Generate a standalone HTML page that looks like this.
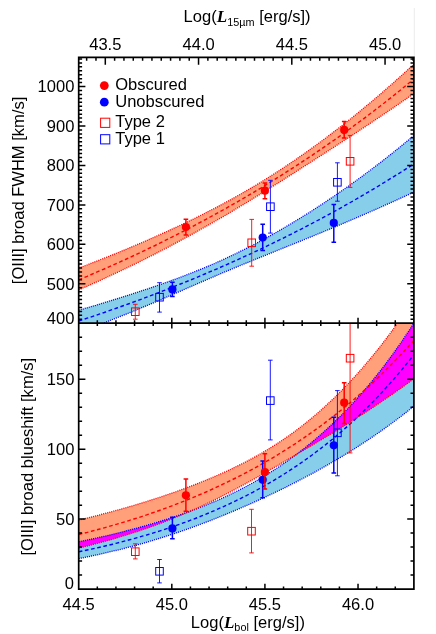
<!DOCTYPE html><html><head><meta charset="utf-8"><title>plot</title>
<style>html,body{margin:0;padding:0;background:#fff}svg{display:block;will-change:transform}text{font-family:"Liberation Sans",sans-serif;font-size:16px;fill:#000}</style></head><body>
<svg width="436" height="634" viewBox="0 0 436 634">
<rect width="436" height="634" fill="#fff"/>
<path d="M414.3,8V57" stroke="#ebebeb" stroke-width="1"/>
<defs>
<clipPath id="c1"><rect x="78.7" y="57.3" width="335.2" height="265.8"/></clipPath>
<clipPath id="c2"><rect x="78.7" y="323.1" width="335.2" height="266.1"/></clipPath>
<clipPath id="cru"><path d="M78.7,520.2 L82.9,519.1 L87.2,518.1 L91.4,517.0 L95.7,515.9 L99.9,514.8 L104.2,513.7 L108.4,512.6 L112.6,511.4 L116.9,510.3 L121.1,509.1 L125.4,507.9 L129.6,506.6 L133.9,505.4 L138.1,504.1 L142.3,502.8 L146.6,501.5 L150.8,500.1 L155.1,498.8 L159.3,497.4 L163.6,496.0 L167.8,494.5 L172.0,493.1 L176.3,491.6 L180.5,490.0 L184.8,488.5 L189.0,486.9 L193.3,485.3 L197.5,483.6 L201.7,481.9 L206.0,480.2 L210.2,478.4 L214.5,476.6 L218.7,474.8 L223.0,472.9 L227.2,471.0 L231.4,469.0 L235.7,466.9 L239.9,464.8 L244.2,462.7 L248.4,460.5 L252.7,458.2 L256.9,455.8 L261.2,453.4 L265.4,450.9 L269.6,448.4 L273.9,445.7 L278.1,443.0 L282.4,440.2 L286.6,437.3 L290.9,434.3 L295.1,431.2 L299.3,428.0 L303.6,424.7 L307.8,421.3 L312.1,417.8 L316.3,414.2 L320.6,410.5 L324.8,406.7 L329.0,402.8 L333.3,398.8 L337.5,394.6 L341.8,390.4 L346.0,386.0 L350.3,381.5 L354.5,377.0 L358.7,372.2 L363.0,367.4 L367.2,362.4 L371.5,357.3 L375.7,352.1 L380.0,346.8 L384.2,341.3 L388.4,335.7 L392.7,329.9 L396.9,324.0 L401.2,317.9 L405.4,311.7 L409.7,305.4 L413.9,298.9 L413.9,378.7 L409.7,381.8 L405.4,384.9 L401.2,388.0 L396.9,391.0 L392.7,394.0 L388.4,396.9 L384.2,399.8 L380.0,402.7 L375.7,405.6 L371.5,408.4 L367.2,411.2 L363.0,413.9 L358.7,416.6 L354.5,419.3 L350.3,422.0 L346.0,424.7 L341.8,427.3 L337.5,429.9 L333.3,432.5 L329.0,435.1 L324.8,437.6 L320.6,440.2 L316.3,442.7 L312.1,445.2 L307.8,447.7 L303.6,450.2 L299.3,452.7 L295.1,455.2 L290.9,457.7 L286.6,460.2 L282.4,462.7 L278.1,465.2 L273.9,467.6 L269.6,470.1 L265.4,472.5 L261.2,475.0 L256.9,477.4 L252.7,479.8 L248.4,482.1 L244.2,484.5 L239.9,486.8 L235.7,489.1 L231.4,491.3 L227.2,493.5 L223.0,495.7 L218.7,497.8 L214.5,499.9 L210.2,502.0 L206.0,504.0 L201.7,506.0 L197.5,508.0 L193.3,509.9 L189.0,511.8 L184.8,513.6 L180.5,515.4 L176.3,517.1 L172.0,518.8 L167.8,520.5 L163.6,522.2 L159.3,523.8 L155.1,525.3 L150.8,526.9 L146.6,528.4 L142.3,529.8 L138.1,531.3 L133.9,532.6 L129.6,534.0 L125.4,535.3 L121.1,536.6 L116.9,537.9 L112.6,539.2 L108.4,540.4 L104.2,541.5 L99.9,542.7 L95.7,543.8 L91.4,544.9 L87.2,546.0 L82.9,547.1 L78.7,548.1 Z"/></clipPath>
</defs>
<g clip-path="url(#c1)">
<path d="M78.7,310.2 L82.9,309.0 L87.2,307.8 L91.4,306.5 L95.7,305.3 L99.9,304.0 L104.2,302.7 L108.4,301.4 L112.6,300.1 L116.9,298.8 L121.1,297.5 L125.4,296.1 L129.6,294.8 L133.9,293.4 L138.1,292.0 L142.3,290.6 L146.6,289.2 L150.8,287.8 L155.1,286.3 L159.3,284.9 L163.6,283.4 L167.8,281.9 L172.0,280.3 L176.3,278.8 L180.5,277.2 L184.8,275.6 L189.0,273.9 L193.3,272.3 L197.5,270.6 L201.7,268.9 L206.0,267.1 L210.2,265.3 L214.5,263.5 L218.7,261.6 L223.0,259.7 L227.2,257.7 L231.4,255.7 L235.7,253.7 L239.9,251.6 L244.2,249.5 L248.4,247.4 L252.7,245.2 L256.9,243.0 L261.2,240.7 L265.4,238.4 L269.6,236.1 L273.9,233.7 L278.1,231.3 L282.4,228.8 L286.6,226.3 L290.9,223.8 L295.1,221.2 L299.3,218.7 L303.6,216.0 L307.8,213.4 L312.1,210.7 L316.3,207.9 L320.6,205.2 L324.8,202.4 L329.0,199.5 L333.3,196.7 L337.5,193.8 L341.8,190.8 L346.0,187.9 L350.3,184.9 L354.5,181.8 L358.7,178.8 L363.0,175.7 L367.2,172.5 L371.5,169.3 L375.7,166.1 L380.0,162.9 L384.2,159.6 L388.4,156.3 L392.7,152.9 L396.9,149.5 L401.2,146.1 L405.4,142.6 L409.7,139.1 L413.9,135.6 L413.9,192.1 L409.7,194.0 L405.4,196.0 L401.2,197.9 L396.9,199.9 L392.7,201.8 L388.4,203.7 L384.2,205.6 L380.0,207.5 L375.7,209.4 L371.5,211.2 L367.2,213.1 L363.0,214.9 L358.7,216.8 L354.5,218.6 L350.3,220.4 L346.0,222.2 L341.8,224.0 L337.5,225.8 L333.3,227.6 L329.0,229.4 L324.8,231.1 L320.6,232.9 L316.3,234.6 L312.1,236.4 L307.8,238.1 L303.6,239.8 L299.3,241.6 L295.1,243.3 L290.9,245.0 L286.6,246.7 L282.4,248.4 L278.1,250.1 L273.9,251.8 L269.6,253.6 L265.4,255.3 L261.2,257.0 L256.9,258.7 L252.7,260.4 L248.4,262.2 L244.2,263.9 L239.9,265.6 L235.7,267.4 L231.4,269.2 L227.2,271.0 L223.0,272.7 L218.7,274.5 L214.5,276.4 L210.2,278.2 L206.0,280.0 L201.7,281.8 L197.5,283.7 L193.3,285.5 L189.0,287.4 L184.8,289.2 L180.5,291.1 L176.3,292.9 L172.0,294.8 L167.8,296.6 L163.6,298.4 L159.3,300.3 L155.1,302.1 L150.8,303.9 L146.6,305.7 L142.3,307.4 L138.1,309.2 L133.9,311.0 L129.6,312.7 L125.4,314.4 L121.1,316.1 L116.9,317.8 L112.6,319.5 L108.4,321.2 L104.2,322.9 L99.9,324.5 L95.7,326.1 L91.4,327.7 L87.2,329.3 L82.9,330.9 L78.7,332.5 Z" fill="#87ceeb"/>
<path d="M78.7,268.1 L82.9,266.5 L87.2,264.9 L91.4,263.2 L95.7,261.6 L99.9,259.9 L104.2,258.2 L108.4,256.5 L112.6,254.8 L116.9,253.1 L121.1,251.3 L125.4,249.6 L129.6,247.8 L133.9,246.0 L138.1,244.2 L142.3,242.4 L146.6,240.6 L150.8,238.7 L155.1,236.8 L159.3,234.9 L163.6,233.0 L167.8,231.1 L172.0,229.1 L176.3,227.2 L180.5,225.2 L184.8,223.2 L189.0,221.1 L193.3,219.1 L197.5,217.0 L201.7,214.9 L206.0,212.7 L210.2,210.5 L214.5,208.4 L218.7,206.1 L223.0,203.9 L227.2,201.6 L231.4,199.3 L235.7,196.9 L239.9,194.5 L244.2,192.1 L248.4,189.6 L252.7,187.1 L256.9,184.6 L261.2,182.0 L265.4,179.4 L269.6,176.7 L273.9,174.0 L278.1,171.3 L282.4,168.5 L286.6,165.7 L290.9,162.8 L295.1,160.0 L299.3,157.0 L303.6,154.1 L307.8,151.1 L312.1,148.0 L316.3,145.0 L320.6,141.8 L324.8,138.7 L329.0,135.5 L333.3,132.3 L337.5,129.0 L341.8,125.7 L346.0,122.4 L350.3,119.1 L354.5,115.7 L358.7,112.2 L363.0,108.7 L367.2,105.2 L371.5,101.7 L375.7,98.1 L380.0,94.5 L384.2,90.8 L388.4,87.1 L392.7,83.4 L396.9,79.6 L401.2,75.8 L405.4,72.0 L409.7,68.1 L413.9,64.1 L413.9,93.4 L409.7,96.4 L405.4,99.4 L401.2,102.3 L396.9,105.2 L392.7,108.2 L388.4,111.0 L384.2,113.9 L380.0,116.8 L375.7,119.6 L371.5,122.5 L367.2,125.3 L363.0,128.1 L358.7,130.9 L354.5,133.7 L350.3,136.5 L346.0,139.3 L341.8,142.0 L337.5,144.8 L333.3,147.6 L329.0,150.3 L324.8,153.1 L320.6,155.8 L316.3,158.5 L312.1,161.3 L307.8,164.0 L303.6,166.7 L299.3,169.4 L295.1,172.2 L290.9,174.9 L286.6,177.6 L282.4,180.3 L278.1,183.0 L273.9,185.6 L269.6,188.3 L265.4,191.0 L261.2,193.6 L256.9,196.2 L252.7,198.8 L248.4,201.4 L244.2,204.0 L239.9,206.6 L235.7,209.1 L231.4,211.7 L227.2,214.2 L223.0,216.7 L218.7,219.1 L214.5,221.6 L210.2,224.0 L206.0,226.4 L201.7,228.8 L197.5,231.2 L193.3,233.6 L189.0,235.9 L184.8,238.2 L180.5,240.5 L176.3,242.8 L172.0,245.1 L167.8,247.3 L163.6,249.5 L159.3,251.7 L155.1,253.9 L150.8,256.1 L146.6,258.2 L142.3,260.3 L138.1,262.4 L133.9,264.5 L129.6,266.6 L125.4,268.6 L121.1,270.6 L116.9,272.6 L112.6,274.6 L108.4,276.6 L104.2,278.5 L99.9,280.5 L95.7,282.4 L91.4,284.3 L87.2,286.2 L82.9,288.0 L78.7,289.9 Z" fill="#ffa07a"/>
<path d="M78.7,310.2 L82.9,309.0 L87.2,307.8 L91.4,306.5 L95.7,305.3 L99.9,304.0 L104.2,302.7 L108.4,301.4 L112.6,300.1 L116.9,298.8 L121.1,297.5 L125.4,296.1 L129.6,294.8 L133.9,293.4 L138.1,292.0 L142.3,290.6 L146.6,289.2 L150.8,287.8 L155.1,286.3 L159.3,284.9 L163.6,283.4 L167.8,281.9 L172.0,280.3 L176.3,278.8 L180.5,277.2 L184.8,275.6 L189.0,273.9 L193.3,272.3 L197.5,270.6 L201.7,268.9 L206.0,267.1 L210.2,265.3 L214.5,263.5 L218.7,261.6 L223.0,259.7 L227.2,257.7 L231.4,255.7 L235.7,253.7 L239.9,251.6 L244.2,249.5 L248.4,247.4 L252.7,245.2 L256.9,243.0 L261.2,240.7 L265.4,238.4 L269.6,236.1 L273.9,233.7 L278.1,231.3 L282.4,228.8 L286.6,226.3 L290.9,223.8 L295.1,221.2 L299.3,218.7 L303.6,216.0 L307.8,213.4 L312.1,210.7 L316.3,207.9 L320.6,205.2 L324.8,202.4 L329.0,199.5 L333.3,196.7 L337.5,193.8 L341.8,190.8 L346.0,187.9 L350.3,184.9 L354.5,181.8 L358.7,178.8 L363.0,175.7 L367.2,172.5 L371.5,169.3 L375.7,166.1 L380.0,162.9 L384.2,159.6 L388.4,156.3 L392.7,152.9 L396.9,149.5 L401.2,146.1 L405.4,142.6 L409.7,139.1 L413.9,135.6 " fill="none" stroke="#0000ff" stroke-width="1.3" stroke-dasharray="1.05,1.05"/>
<path d="M78.7,332.5 L82.9,330.9 L87.2,329.3 L91.4,327.7 L95.7,326.1 L99.9,324.5 L104.2,322.9 L108.4,321.2 L112.6,319.5 L116.9,317.8 L121.1,316.1 L125.4,314.4 L129.6,312.7 L133.9,311.0 L138.1,309.2 L142.3,307.4 L146.6,305.7 L150.8,303.9 L155.1,302.1 L159.3,300.3 L163.6,298.4 L167.8,296.6 L172.0,294.8 L176.3,292.9 L180.5,291.1 L184.8,289.2 L189.0,287.4 L193.3,285.5 L197.5,283.7 L201.7,281.8 L206.0,280.0 L210.2,278.2 L214.5,276.4 L218.7,274.5 L223.0,272.7 L227.2,271.0 L231.4,269.2 L235.7,267.4 L239.9,265.6 L244.2,263.9 L248.4,262.2 L252.7,260.4 L256.9,258.7 L261.2,257.0 L265.4,255.3 L269.6,253.6 L273.9,251.8 L278.1,250.1 L282.4,248.4 L286.6,246.7 L290.9,245.0 L295.1,243.3 L299.3,241.6 L303.6,239.8 L307.8,238.1 L312.1,236.4 L316.3,234.6 L320.6,232.9 L324.8,231.1 L329.0,229.4 L333.3,227.6 L337.5,225.8 L341.8,224.0 L346.0,222.2 L350.3,220.4 L354.5,218.6 L358.7,216.8 L363.0,214.9 L367.2,213.1 L371.5,211.2 L375.7,209.4 L380.0,207.5 L384.2,205.6 L388.4,203.7 L392.7,201.8 L396.9,199.9 L401.2,197.9 L405.4,196.0 L409.7,194.0 L413.9,192.1 " fill="none" stroke="#0000ff" stroke-width="1.3" stroke-dasharray="1.05,1.05"/>
<path d="M78.7,321.0 L82.9,319.6 L87.2,318.2 L91.4,316.8 L95.7,315.4 L99.9,313.9 L104.2,312.5 L108.4,311.0 L112.6,309.5 L116.9,308.0 L121.1,306.5 L125.4,305.0 L129.6,303.5 L133.9,301.9 L138.1,300.4 L142.3,298.8 L146.6,297.2 L150.8,295.6 L155.1,294.0 L159.3,292.4 L163.6,290.7 L167.8,289.1 L172.0,287.4 L176.3,285.7 L180.5,284.0 L184.8,282.3 L189.0,280.6 L193.3,278.8 L197.5,277.1 L201.7,275.3 L206.0,273.5 L210.2,271.7 L214.5,269.9 L218.7,268.1 L223.0,266.2 L227.2,264.4 L231.4,262.5 L235.7,260.6 L239.9,258.6 L244.2,256.7 L248.4,254.8 L252.7,252.8 L256.9,250.8 L261.2,248.8 L265.4,246.8 L269.6,244.8 L273.9,242.7 L278.1,240.6 L282.4,238.5 L286.6,236.4 L290.9,234.3 L295.1,232.2 L299.3,230.0 L303.6,227.8 L307.8,225.6 L312.1,223.4 L316.3,221.1 L320.6,218.9 L324.8,216.6 L329.0,214.3 L333.3,212.0 L337.5,209.7 L341.8,207.3 L346.0,204.9 L350.3,202.5 L354.5,200.1 L358.7,197.6 L363.0,195.2 L367.2,192.7 L371.5,190.2 L375.7,187.7 L380.0,185.1 L384.2,182.5 L388.4,179.9 L392.7,177.3 L396.9,174.7 L401.2,172.0 L405.4,169.3 L409.7,166.6 L413.9,163.9 " fill="none" stroke="#0000ff" stroke-width="1.4" stroke-dasharray="3.7,2.6"/>
<path d="M78.7,268.1 L82.9,266.5 L87.2,264.9 L91.4,263.2 L95.7,261.6 L99.9,259.9 L104.2,258.2 L108.4,256.5 L112.6,254.8 L116.9,253.1 L121.1,251.3 L125.4,249.6 L129.6,247.8 L133.9,246.0 L138.1,244.2 L142.3,242.4 L146.6,240.6 L150.8,238.7 L155.1,236.8 L159.3,234.9 L163.6,233.0 L167.8,231.1 L172.0,229.1 L176.3,227.2 L180.5,225.2 L184.8,223.2 L189.0,221.1 L193.3,219.1 L197.5,217.0 L201.7,214.9 L206.0,212.7 L210.2,210.5 L214.5,208.4 L218.7,206.1 L223.0,203.9 L227.2,201.6 L231.4,199.3 L235.7,196.9 L239.9,194.5 L244.2,192.1 L248.4,189.6 L252.7,187.1 L256.9,184.6 L261.2,182.0 L265.4,179.4 L269.6,176.7 L273.9,174.0 L278.1,171.3 L282.4,168.5 L286.6,165.7 L290.9,162.8 L295.1,160.0 L299.3,157.0 L303.6,154.1 L307.8,151.1 L312.1,148.0 L316.3,145.0 L320.6,141.8 L324.8,138.7 L329.0,135.5 L333.3,132.3 L337.5,129.0 L341.8,125.7 L346.0,122.4 L350.3,119.1 L354.5,115.7 L358.7,112.2 L363.0,108.7 L367.2,105.2 L371.5,101.7 L375.7,98.1 L380.0,94.5 L384.2,90.8 L388.4,87.1 L392.7,83.4 L396.9,79.6 L401.2,75.8 L405.4,72.0 L409.7,68.1 L413.9,64.1 " fill="none" stroke="#ff0000" stroke-width="1.3" stroke-dasharray="1.05,1.05"/>
<path d="M78.7,289.9 L82.9,288.0 L87.2,286.2 L91.4,284.3 L95.7,282.4 L99.9,280.5 L104.2,278.5 L108.4,276.6 L112.6,274.6 L116.9,272.6 L121.1,270.6 L125.4,268.6 L129.6,266.6 L133.9,264.5 L138.1,262.4 L142.3,260.3 L146.6,258.2 L150.8,256.1 L155.1,253.9 L159.3,251.7 L163.6,249.5 L167.8,247.3 L172.0,245.1 L176.3,242.8 L180.5,240.5 L184.8,238.2 L189.0,235.9 L193.3,233.6 L197.5,231.2 L201.7,228.8 L206.0,226.4 L210.2,224.0 L214.5,221.6 L218.7,219.1 L223.0,216.7 L227.2,214.2 L231.4,211.7 L235.7,209.1 L239.9,206.6 L244.2,204.0 L248.4,201.4 L252.7,198.8 L256.9,196.2 L261.2,193.6 L265.4,191.0 L269.6,188.3 L273.9,185.6 L278.1,183.0 L282.4,180.3 L286.6,177.6 L290.9,174.9 L295.1,172.2 L299.3,169.4 L303.6,166.7 L307.8,164.0 L312.1,161.3 L316.3,158.5 L320.6,155.8 L324.8,153.1 L329.0,150.3 L333.3,147.6 L337.5,144.8 L341.8,142.0 L346.0,139.3 L350.3,136.5 L354.5,133.7 L358.7,130.9 L363.0,128.1 L367.2,125.3 L371.5,122.5 L375.7,119.6 L380.0,116.8 L384.2,113.9 L388.4,111.0 L392.7,108.2 L396.9,105.2 L401.2,102.3 L405.4,99.4 L409.7,96.4 L413.9,93.4 " fill="none" stroke="#ff0000" stroke-width="1.3" stroke-dasharray="1.05,1.05"/>
<path d="M78.7,279.8 L82.9,278.0 L87.2,276.3 L91.4,274.5 L95.7,272.6 L99.9,270.8 L104.2,269.0 L108.4,267.1 L112.6,265.2 L116.9,263.3 L121.1,261.4 L125.4,259.5 L129.6,257.5 L133.9,255.5 L138.1,253.6 L142.3,251.6 L146.6,249.5 L150.8,247.5 L155.1,245.5 L159.3,243.4 L163.6,241.3 L167.8,239.2 L172.0,237.0 L176.3,234.9 L180.5,232.7 L184.8,230.6 L189.0,228.3 L193.3,226.1 L197.5,223.9 L201.7,221.6 L206.0,219.3 L210.2,217.0 L214.5,214.7 L218.7,212.4 L223.0,210.0 L227.2,207.6 L231.4,205.2 L235.7,202.8 L239.9,200.3 L244.2,197.9 L248.4,195.4 L252.7,192.9 L256.9,190.3 L261.2,187.8 L265.4,185.2 L269.6,182.6 L273.9,180.0 L278.1,177.3 L282.4,174.6 L286.6,171.9 L290.9,169.2 L295.1,166.5 L299.3,163.7 L303.6,160.9 L307.8,158.1 L312.1,155.3 L316.3,152.4 L320.6,149.5 L324.8,146.6 L329.0,143.6 L333.3,140.7 L337.5,137.7 L341.8,134.7 L346.0,131.6 L350.3,128.5 L354.5,125.4 L358.7,122.3 L363.0,119.2 L367.2,116.0 L371.5,112.8 L375.7,109.5 L380.0,106.2 L384.2,103.0 L388.4,99.6 L392.7,96.3 L396.9,92.9 L401.2,89.5 L405.4,86.0 L409.7,82.5 L413.9,79.0 " fill="none" stroke="#ff0000" stroke-width="1.4" stroke-dasharray="3.7,2.6"/>
</g>
<g clip-path="url(#c2)">
<path d="M78.7,541.8 L82.9,540.9 L87.2,540.0 L91.4,539.1 L95.7,538.2 L99.9,537.2 L104.2,536.3 L108.4,535.3 L112.6,534.3 L116.9,533.2 L121.1,532.2 L125.4,531.1 L129.6,530.0 L133.9,528.9 L138.1,527.8 L142.3,526.6 L146.6,525.4 L150.8,524.2 L155.1,522.9 L159.3,521.6 L163.6,520.3 L167.8,519.0 L172.0,517.6 L176.3,516.2 L180.5,514.7 L184.8,513.2 L189.0,511.7 L193.3,510.1 L197.5,508.5 L201.7,506.9 L206.0,505.2 L210.2,503.4 L214.5,501.6 L218.7,499.8 L223.0,497.9 L227.2,495.9 L231.4,493.9 L235.7,491.8 L239.9,489.7 L244.2,487.5 L248.4,485.2 L252.7,482.9 L256.9,480.5 L261.2,478.0 L265.4,475.5 L269.6,472.9 L273.9,470.2 L278.1,467.4 L282.4,464.5 L286.6,461.6 L290.9,458.5 L295.1,455.4 L299.3,452.2 L303.6,448.9 L307.8,445.5 L312.1,442.0 L316.3,438.4 L320.6,434.8 L324.8,431.0 L329.0,427.1 L333.3,423.1 L337.5,419.0 L341.8,414.8 L346.0,410.4 L350.3,406.0 L354.5,401.4 L358.7,396.7 L363.0,391.9 L367.2,386.9 L371.5,381.8 L375.7,376.6 L380.0,371.3 L384.2,365.8 L388.4,360.1 L392.7,354.3 L396.9,348.4 L401.2,342.3 L405.4,336.0 L409.7,329.6 L413.9,323.0 L413.9,406.2 L409.7,409.6 L405.4,412.9 L401.2,416.2 L396.9,419.4 L392.7,422.6 L388.4,425.7 L384.2,428.7 L380.0,431.7 L375.7,434.7 L371.5,437.6 L367.2,440.4 L363.0,443.2 L358.7,446.0 L354.5,448.7 L350.3,451.4 L346.0,454.0 L341.8,456.6 L337.5,459.1 L333.3,461.6 L329.0,464.1 L324.8,466.5 L320.6,468.9 L316.3,471.3 L312.1,473.6 L307.8,475.8 L303.6,478.1 L299.3,480.3 L295.1,482.5 L290.9,484.6 L286.6,486.8 L282.4,488.9 L278.1,490.9 L273.9,493.0 L269.6,495.0 L265.4,497.0 L261.2,498.9 L256.9,500.9 L252.7,502.8 L248.4,504.7 L244.2,506.5 L239.9,508.4 L235.7,510.2 L231.4,512.0 L227.2,513.7 L223.0,515.5 L218.7,517.2 L214.5,518.9 L210.2,520.6 L206.0,522.2 L201.7,523.8 L197.5,525.4 L193.3,527.0 L189.0,528.5 L184.8,530.0 L180.5,531.5 L176.3,532.9 L172.0,534.3 L167.8,535.7 L163.6,537.1 L159.3,538.4 L155.1,539.7 L150.8,541.0 L146.6,542.3 L142.3,543.5 L138.1,544.7 L133.9,545.8 L129.6,547.0 L125.4,548.1 L121.1,549.2 L116.9,550.2 L112.6,551.2 L108.4,552.2 L104.2,553.2 L99.9,554.2 L95.7,555.1 L91.4,556.0 L87.2,556.9 L82.9,557.8 L78.7,558.6 Z" fill="#87ceeb"/>
<path d="M78.7,520.2 L82.9,519.1 L87.2,518.1 L91.4,517.0 L95.7,515.9 L99.9,514.8 L104.2,513.7 L108.4,512.6 L112.6,511.4 L116.9,510.3 L121.1,509.1 L125.4,507.9 L129.6,506.6 L133.9,505.4 L138.1,504.1 L142.3,502.8 L146.6,501.5 L150.8,500.1 L155.1,498.8 L159.3,497.4 L163.6,496.0 L167.8,494.5 L172.0,493.1 L176.3,491.6 L180.5,490.0 L184.8,488.5 L189.0,486.9 L193.3,485.3 L197.5,483.6 L201.7,481.9 L206.0,480.2 L210.2,478.4 L214.5,476.6 L218.7,474.8 L223.0,472.9 L227.2,471.0 L231.4,469.0 L235.7,466.9 L239.9,464.8 L244.2,462.7 L248.4,460.5 L252.7,458.2 L256.9,455.8 L261.2,453.4 L265.4,450.9 L269.6,448.4 L273.9,445.7 L278.1,443.0 L282.4,440.2 L286.6,437.3 L290.9,434.3 L295.1,431.2 L299.3,428.0 L303.6,424.7 L307.8,421.3 L312.1,417.8 L316.3,414.2 L320.6,410.5 L324.8,406.7 L329.0,402.8 L333.3,398.8 L337.5,394.6 L341.8,390.4 L346.0,386.0 L350.3,381.5 L354.5,377.0 L358.7,372.2 L363.0,367.4 L367.2,362.4 L371.5,357.3 L375.7,352.1 L380.0,346.8 L384.2,341.3 L388.4,335.7 L392.7,329.9 L396.9,324.0 L401.2,317.9 L405.4,311.7 L409.7,305.4 L413.9,298.9 L413.9,378.7 L409.7,381.8 L405.4,384.9 L401.2,388.0 L396.9,391.0 L392.7,394.0 L388.4,396.9 L384.2,399.8 L380.0,402.7 L375.7,405.6 L371.5,408.4 L367.2,411.2 L363.0,413.9 L358.7,416.6 L354.5,419.3 L350.3,422.0 L346.0,424.7 L341.8,427.3 L337.5,429.9 L333.3,432.5 L329.0,435.1 L324.8,437.6 L320.6,440.2 L316.3,442.7 L312.1,445.2 L307.8,447.7 L303.6,450.2 L299.3,452.7 L295.1,455.2 L290.9,457.7 L286.6,460.2 L282.4,462.7 L278.1,465.2 L273.9,467.6 L269.6,470.1 L265.4,472.5 L261.2,475.0 L256.9,477.4 L252.7,479.8 L248.4,482.1 L244.2,484.5 L239.9,486.8 L235.7,489.1 L231.4,491.3 L227.2,493.5 L223.0,495.7 L218.7,497.8 L214.5,499.9 L210.2,502.0 L206.0,504.0 L201.7,506.0 L197.5,508.0 L193.3,509.9 L189.0,511.8 L184.8,513.6 L180.5,515.4 L176.3,517.1 L172.0,518.8 L167.8,520.5 L163.6,522.2 L159.3,523.8 L155.1,525.3 L150.8,526.9 L146.6,528.4 L142.3,529.8 L138.1,531.3 L133.9,532.6 L129.6,534.0 L125.4,535.3 L121.1,536.6 L116.9,537.9 L112.6,539.2 L108.4,540.4 L104.2,541.5 L99.9,542.7 L95.7,543.8 L91.4,544.9 L87.2,546.0 L82.9,547.1 L78.7,548.1 Z" fill="#ffa07a"/>
<g clip-path="url(#cru)"><path d="M78.7,541.8 L82.9,540.9 L87.2,540.0 L91.4,539.1 L95.7,538.2 L99.9,537.2 L104.2,536.3 L108.4,535.3 L112.6,534.3 L116.9,533.2 L121.1,532.2 L125.4,531.1 L129.6,530.0 L133.9,528.9 L138.1,527.8 L142.3,526.6 L146.6,525.4 L150.8,524.2 L155.1,522.9 L159.3,521.6 L163.6,520.3 L167.8,519.0 L172.0,517.6 L176.3,516.2 L180.5,514.7 L184.8,513.2 L189.0,511.7 L193.3,510.1 L197.5,508.5 L201.7,506.9 L206.0,505.2 L210.2,503.4 L214.5,501.6 L218.7,499.8 L223.0,497.9 L227.2,495.9 L231.4,493.9 L235.7,491.8 L239.9,489.7 L244.2,487.5 L248.4,485.2 L252.7,482.9 L256.9,480.5 L261.2,478.0 L265.4,475.5 L269.6,472.9 L273.9,470.2 L278.1,467.4 L282.4,464.5 L286.6,461.6 L290.9,458.5 L295.1,455.4 L299.3,452.2 L303.6,448.9 L307.8,445.5 L312.1,442.0 L316.3,438.4 L320.6,434.8 L324.8,431.0 L329.0,427.1 L333.3,423.1 L337.5,419.0 L341.8,414.8 L346.0,410.4 L350.3,406.0 L354.5,401.4 L358.7,396.7 L363.0,391.9 L367.2,386.9 L371.5,381.8 L375.7,376.6 L380.0,371.3 L384.2,365.8 L388.4,360.1 L392.7,354.3 L396.9,348.4 L401.2,342.3 L405.4,336.0 L409.7,329.6 L413.9,323.0 L413.9,406.2 L409.7,409.6 L405.4,412.9 L401.2,416.2 L396.9,419.4 L392.7,422.6 L388.4,425.7 L384.2,428.7 L380.0,431.7 L375.7,434.7 L371.5,437.6 L367.2,440.4 L363.0,443.2 L358.7,446.0 L354.5,448.7 L350.3,451.4 L346.0,454.0 L341.8,456.6 L337.5,459.1 L333.3,461.6 L329.0,464.1 L324.8,466.5 L320.6,468.9 L316.3,471.3 L312.1,473.6 L307.8,475.8 L303.6,478.1 L299.3,480.3 L295.1,482.5 L290.9,484.6 L286.6,486.8 L282.4,488.9 L278.1,490.9 L273.9,493.0 L269.6,495.0 L265.4,497.0 L261.2,498.9 L256.9,500.9 L252.7,502.8 L248.4,504.7 L244.2,506.5 L239.9,508.4 L235.7,510.2 L231.4,512.0 L227.2,513.7 L223.0,515.5 L218.7,517.2 L214.5,518.9 L210.2,520.6 L206.0,522.2 L201.7,523.8 L197.5,525.4 L193.3,527.0 L189.0,528.5 L184.8,530.0 L180.5,531.5 L176.3,532.9 L172.0,534.3 L167.8,535.7 L163.6,537.1 L159.3,538.4 L155.1,539.7 L150.8,541.0 L146.6,542.3 L142.3,543.5 L138.1,544.7 L133.9,545.8 L129.6,547.0 L125.4,548.1 L121.1,549.2 L116.9,550.2 L112.6,551.2 L108.4,552.2 L104.2,553.2 L99.9,554.2 L95.7,555.1 L91.4,556.0 L87.2,556.9 L82.9,557.8 L78.7,558.6 Z" fill="#ff00ff"/></g>
<path d="M78.7,541.8 L82.9,540.9 L87.2,540.0 L91.4,539.1 L95.7,538.2 L99.9,537.2 L104.2,536.3 L108.4,535.3 L112.6,534.3 L116.9,533.2 L121.1,532.2 L125.4,531.1 L129.6,530.0 L133.9,528.9 L138.1,527.8 L142.3,526.6 L146.6,525.4 L150.8,524.2 L155.1,522.9 L159.3,521.6 L163.6,520.3 L167.8,519.0 L172.0,517.6 L176.3,516.2 L180.5,514.7 L184.8,513.2 L189.0,511.7 L193.3,510.1 L197.5,508.5 L201.7,506.9 L206.0,505.2 L210.2,503.4 L214.5,501.6 L218.7,499.8 L223.0,497.9 L227.2,495.9 L231.4,493.9 L235.7,491.8 L239.9,489.7 L244.2,487.5 L248.4,485.2 L252.7,482.9 L256.9,480.5 L261.2,478.0 L265.4,475.5 L269.6,472.9 L273.9,470.2 L278.1,467.4 L282.4,464.5 L286.6,461.6 L290.9,458.5 L295.1,455.4 L299.3,452.2 L303.6,448.9 L307.8,445.5 L312.1,442.0 L316.3,438.4 L320.6,434.8 L324.8,431.0 L329.0,427.1 L333.3,423.1 L337.5,419.0 L341.8,414.8 L346.0,410.4 L350.3,406.0 L354.5,401.4 L358.7,396.7 L363.0,391.9 L367.2,386.9 L371.5,381.8 L375.7,376.6 L380.0,371.3 L384.2,365.8 L388.4,360.1 L392.7,354.3 L396.9,348.4 L401.2,342.3 L405.4,336.0 L409.7,329.6 L413.9,323.0 " fill="none" stroke="#0000ff" stroke-width="1.3" stroke-dasharray="1.05,1.05"/>
<path d="M78.7,558.6 L82.9,557.8 L87.2,556.9 L91.4,556.0 L95.7,555.1 L99.9,554.2 L104.2,553.2 L108.4,552.2 L112.6,551.2 L116.9,550.2 L121.1,549.2 L125.4,548.1 L129.6,547.0 L133.9,545.8 L138.1,544.7 L142.3,543.5 L146.6,542.3 L150.8,541.0 L155.1,539.7 L159.3,538.4 L163.6,537.1 L167.8,535.7 L172.0,534.3 L176.3,532.9 L180.5,531.5 L184.8,530.0 L189.0,528.5 L193.3,527.0 L197.5,525.4 L201.7,523.8 L206.0,522.2 L210.2,520.6 L214.5,518.9 L218.7,517.2 L223.0,515.5 L227.2,513.7 L231.4,512.0 L235.7,510.2 L239.9,508.4 L244.2,506.5 L248.4,504.7 L252.7,502.8 L256.9,500.9 L261.2,498.9 L265.4,497.0 L269.6,495.0 L273.9,493.0 L278.1,490.9 L282.4,488.9 L286.6,486.8 L290.9,484.6 L295.1,482.5 L299.3,480.3 L303.6,478.1 L307.8,475.8 L312.1,473.6 L316.3,471.3 L320.6,468.9 L324.8,466.5 L329.0,464.1 L333.3,461.6 L337.5,459.1 L341.8,456.6 L346.0,454.0 L350.3,451.4 L354.5,448.7 L358.7,446.0 L363.0,443.2 L367.2,440.4 L371.5,437.6 L375.7,434.7 L380.0,431.7 L384.2,428.7 L388.4,425.7 L392.7,422.6 L396.9,419.4 L401.2,416.2 L405.4,412.9 L409.7,409.6 L413.9,406.2 " fill="none" stroke="#0000ff" stroke-width="1.3" stroke-dasharray="1.05,1.05"/>
<path d="M78.7,551.8 L82.9,550.9 L87.2,550.0 L91.4,549.1 L95.7,548.2 L99.9,547.2 L104.2,546.2 L108.4,545.2 L112.6,544.2 L116.9,543.1 L121.1,542.0 L125.4,540.9 L129.6,539.8 L133.9,538.6 L138.1,537.5 L142.3,536.2 L146.6,535.0 L150.8,533.7 L155.1,532.4 L159.3,531.1 L163.6,529.7 L167.8,528.3 L172.0,526.9 L176.3,525.4 L180.5,523.9 L184.8,522.4 L189.0,520.8 L193.3,519.2 L197.5,517.6 L201.7,515.9 L206.0,514.2 L210.2,512.4 L214.5,510.6 L218.7,508.7 L223.0,506.8 L227.2,504.9 L231.4,502.9 L235.7,500.9 L239.9,498.8 L244.2,496.7 L248.4,494.5 L252.7,492.3 L256.9,490.0 L261.2,487.7 L265.4,485.3 L269.6,482.8 L273.9,480.3 L278.1,477.8 L282.4,475.2 L286.6,472.5 L290.9,469.7 L295.1,466.9 L299.3,464.1 L303.6,461.1 L307.8,458.1 L312.1,455.0 L316.3,451.8 L320.6,448.6 L324.8,445.3 L329.0,441.9 L333.3,438.5 L337.5,434.9 L341.8,431.3 L346.0,427.6 L350.3,423.8 L354.5,419.9 L358.7,415.9 L363.0,411.8 L367.2,407.6 L371.5,403.4 L375.7,399.0 L380.0,394.5 L384.2,389.9 L388.4,385.2 L392.7,380.4 L396.9,375.5 L401.2,370.5 L405.4,365.3 L409.7,360.1 L413.9,354.7 " fill="none" stroke="#0000ff" stroke-width="1.4" stroke-dasharray="3.7,2.6"/>
<path d="M78.7,520.2 L82.9,519.1 L87.2,518.1 L91.4,517.0 L95.7,515.9 L99.9,514.8 L104.2,513.7 L108.4,512.6 L112.6,511.4 L116.9,510.3 L121.1,509.1 L125.4,507.9 L129.6,506.6 L133.9,505.4 L138.1,504.1 L142.3,502.8 L146.6,501.5 L150.8,500.1 L155.1,498.8 L159.3,497.4 L163.6,496.0 L167.8,494.5 L172.0,493.1 L176.3,491.6 L180.5,490.0 L184.8,488.5 L189.0,486.9 L193.3,485.3 L197.5,483.6 L201.7,481.9 L206.0,480.2 L210.2,478.4 L214.5,476.6 L218.7,474.8 L223.0,472.9 L227.2,471.0 L231.4,469.0 L235.7,466.9 L239.9,464.8 L244.2,462.7 L248.4,460.5 L252.7,458.2 L256.9,455.8 L261.2,453.4 L265.4,450.9 L269.6,448.4 L273.9,445.7 L278.1,443.0 L282.4,440.2 L286.6,437.3 L290.9,434.3 L295.1,431.2 L299.3,428.0 L303.6,424.7 L307.8,421.3 L312.1,417.8 L316.3,414.2 L320.6,410.5 L324.8,406.7 L329.0,402.8 L333.3,398.8 L337.5,394.6 L341.8,390.4 L346.0,386.0 L350.3,381.5 L354.5,377.0 L358.7,372.2 L363.0,367.4 L367.2,362.4 L371.5,357.3 L375.7,352.1 L380.0,346.8 L384.2,341.3 L388.4,335.7 L392.7,329.9 L396.9,324.0 L401.2,317.9 L405.4,311.7 L409.7,305.4 L413.9,298.9 " fill="none" stroke="#ff0000" stroke-width="1.3" stroke-dasharray="1.05,1.05"/>
<path d="M78.7,548.1 L82.9,547.1 L87.2,546.0 L91.4,544.9 L95.7,543.8 L99.9,542.7 L104.2,541.5 L108.4,540.4 L112.6,539.2 L116.9,537.9 L121.1,536.6 L125.4,535.3 L129.6,534.0 L133.9,532.6 L138.1,531.3 L142.3,529.8 L146.6,528.4 L150.8,526.9 L155.1,525.3 L159.3,523.8 L163.6,522.2 L167.8,520.5 L172.0,518.8 L176.3,517.1 L180.5,515.4 L184.8,513.6 L189.0,511.8 L193.3,509.9 L197.5,508.0 L201.7,506.0 L206.0,504.0 L210.2,502.0 L214.5,499.9 L218.7,497.8 L223.0,495.7 L227.2,493.5 L231.4,491.3 L235.7,489.1 L239.9,486.8 L244.2,484.5 L248.4,482.1 L252.7,479.8 L256.9,477.4 L261.2,475.0 L265.4,472.5 L269.6,470.1 L273.9,467.6 L278.1,465.2 L282.4,462.7 L286.6,460.2 L290.9,457.7 L295.1,455.2 L299.3,452.7 L303.6,450.2 L307.8,447.7 L312.1,445.2 L316.3,442.7 L320.6,440.2 L324.8,437.6 L329.0,435.1 L333.3,432.5 L337.5,429.9 L341.8,427.3 L346.0,424.7 L350.3,422.0 L354.5,419.3 L358.7,416.6 L363.0,413.9 L367.2,411.2 L371.5,408.4 L375.7,405.6 L380.0,402.7 L384.2,399.8 L388.4,396.9 L392.7,394.0 L396.9,391.0 L401.2,388.0 L405.4,384.9 L409.7,381.8 L413.9,378.7 " fill="none" stroke="#ff0000" stroke-width="1.3" stroke-dasharray="1.05,1.05"/>
<path d="M78.7,534.5 L82.9,533.4 L87.2,532.4 L91.4,531.3 L95.7,530.1 L99.9,529.0 L104.2,527.8 L108.4,526.6 L112.6,525.4 L116.9,524.2 L121.1,522.9 L125.4,521.7 L129.6,520.3 L133.9,519.0 L138.1,517.7 L142.3,516.3 L146.6,514.9 L150.8,513.4 L155.1,512.0 L159.3,510.5 L163.6,508.9 L167.8,507.4 L172.0,505.8 L176.3,504.2 L180.5,502.5 L184.8,500.9 L189.0,499.2 L193.3,497.4 L197.5,495.6 L201.7,493.8 L206.0,492.0 L210.2,490.1 L214.5,488.2 L218.7,486.2 L223.0,484.2 L227.2,482.2 L231.4,480.1 L235.7,478.0 L239.9,475.9 L244.2,473.7 L248.4,471.4 L252.7,469.1 L256.9,466.8 L261.2,464.4 L265.4,462.0 L269.6,459.6 L273.9,457.1 L278.1,454.5 L282.4,451.9 L286.6,449.2 L290.9,446.5 L295.1,443.8 L299.3,440.9 L303.6,438.1 L307.8,435.1 L312.1,432.2 L316.3,429.1 L320.6,426.0 L324.8,422.9 L329.0,419.6 L333.3,416.4 L337.5,413.0 L341.8,409.6 L346.0,406.1 L350.3,402.6 L354.5,399.0 L358.7,395.3 L363.0,391.5 L367.2,387.7 L371.5,383.8 L375.7,379.8 L380.0,375.8 L384.2,371.6 L388.4,367.4 L392.7,363.1 L396.9,358.7 L401.2,354.3 L405.4,349.7 L409.7,345.1 L413.9,340.3 " fill="none" stroke="#ff0000" stroke-width="1.4" stroke-dasharray="3.7,2.6"/>
</g>
<g clip-path="url(#c1)">
<path d="M135.3,304.3V319.2M133.0,304.3H137.6M133.0,319.2H137.6" stroke="#ff0000" stroke-width="0.90" fill="none"/>
<rect x="131.5" y="307.9" width="7.6" height="7.6" fill="none" stroke="#ff0000" stroke-width="1"/>
<path d="M251.7,219.4V266.2M249.4,219.4H254.0M249.4,266.2H254.0" stroke="#ff0000" stroke-width="0.90" fill="none"/>
<rect x="247.9" y="239.0" width="7.6" height="7.6" fill="none" stroke="#ff0000" stroke-width="1"/>
<path d="M350.1,135.4V187.4M347.8,135.4H352.4M347.8,187.4H352.4" stroke="#ff0000" stroke-width="0.90" fill="none"/>
<rect x="346.3" y="157.5" width="7.6" height="7.6" fill="none" stroke="#ff0000" stroke-width="1"/>
<path d="M159.5,282.7V312.1M157.2,282.7H161.8M157.2,312.1H161.8" stroke="#0000ff" stroke-width="0.90" fill="none"/>
<rect x="155.7" y="293.4" width="7.6" height="7.6" fill="none" stroke="#0000ff" stroke-width="1"/>
<path d="M270.4,180.3V233.1M268.1,180.3H272.7M268.1,233.1H272.7" stroke="#0000ff" stroke-width="0.90" fill="none"/>
<rect x="266.6" y="202.9" width="7.6" height="7.6" fill="none" stroke="#0000ff" stroke-width="1"/>
<path d="M337.4,162.8V201.2M335.1,162.8H339.7M335.1,201.2H339.7" stroke="#0000ff" stroke-width="0.90" fill="none"/>
<rect x="333.6" y="178.5" width="7.6" height="7.6" fill="none" stroke="#0000ff" stroke-width="1"/>
<path d="M172.4,282.2V296.5M170.1,282.2H174.7M170.1,296.5H174.7" stroke="#0000ff" stroke-width="1.50" fill="none"/>
<circle cx="172.4" cy="289.4" r="4.1" fill="#0000ff"/>
<path d="M262.7,224.3V250.5M260.4,224.3H265.0M260.4,250.5H265.0" stroke="#0000ff" stroke-width="1.50" fill="none"/>
<circle cx="262.7" cy="237.5" r="4.1" fill="#0000ff"/>
<path d="M333.8,204.5V242.2M331.5,204.5H336.1M331.5,242.2H336.1" stroke="#0000ff" stroke-width="1.50" fill="none"/>
<circle cx="333.8" cy="222.9" r="4.1" fill="#0000ff"/>
<path d="M185.9,219.3V235.0M183.6,219.3H188.2M183.6,235.0H188.2" stroke="#ff0000" stroke-width="1.50" fill="none"/>
<circle cx="185.9" cy="227.0" r="4.1" fill="#ff0000"/>
<path d="M264.9,183.0V198.7M262.6,183.0H267.2M262.6,198.7H267.2" stroke="#ff0000" stroke-width="1.50" fill="none"/>
<circle cx="264.9" cy="190.7" r="4.1" fill="#ff0000"/>
<path d="M344.2,121.6V138.1M341.9,121.6H346.5M341.9,138.1H346.5" stroke="#ff0000" stroke-width="1.50" fill="none"/>
<circle cx="344.2" cy="129.9" r="4.1" fill="#ff0000"/>
</g>
<g clip-path="url(#c2)">
<path d="M135.3,543.8V558.9M133.0,543.8H137.6M133.0,558.9H137.6" stroke="#ff0000" stroke-width="0.90" fill="none"/>
<rect x="131.5" y="547.9" width="7.6" height="7.6" fill="none" stroke="#ff0000" stroke-width="1"/>
<path d="M251.5,509.3V552.9M249.2,509.3H253.8M249.2,552.9H253.8" stroke="#ff0000" stroke-width="0.90" fill="none"/>
<rect x="247.7" y="527.4" width="7.6" height="7.6" fill="none" stroke="#ff0000" stroke-width="1"/>
<path d="M350.1,263.0V452.9M347.8,263.0H352.4M347.8,452.9H352.4" stroke="#ff0000" stroke-width="0.90" fill="none"/>
<rect x="346.3" y="354.4" width="7.6" height="7.6" fill="none" stroke="#ff0000" stroke-width="1"/>
<path d="M159.5,559.5V582.9M157.2,559.5H161.8M157.2,582.9H161.8" stroke="#0000ff" stroke-width="0.90" fill="none"/>
<rect x="155.7" y="567.5" width="7.6" height="7.6" fill="none" stroke="#0000ff" stroke-width="1"/>
<path d="M270.3,360.2V439.9M268.0,360.2H272.6M268.0,439.9H272.6" stroke="#0000ff" stroke-width="0.90" fill="none"/>
<rect x="266.5" y="396.8" width="7.6" height="7.6" fill="none" stroke="#0000ff" stroke-width="1"/>
<path d="M337.4,390.6V475.8M335.1,390.6H339.7M335.1,475.8H339.7" stroke="#0000ff" stroke-width="0.90" fill="none"/>
<rect x="333.6" y="429.0" width="7.6" height="7.6" fill="none" stroke="#0000ff" stroke-width="1"/>
<path d="M172.4,517.3V538.8M170.1,517.3H174.7M170.1,538.8H174.7" stroke="#0000ff" stroke-width="1.50" fill="none"/>
<circle cx="172.4" cy="528.4" r="4.1" fill="#0000ff"/>
<path d="M262.7,461.1V497.7M260.4,461.1H265.0M260.4,497.7H265.0" stroke="#0000ff" stroke-width="1.50" fill="none"/>
<circle cx="262.7" cy="479.8" r="4.1" fill="#0000ff"/>
<path d="M333.8,417.2V473.0M331.5,417.2H336.1M331.5,473.0H336.1" stroke="#0000ff" stroke-width="1.50" fill="none"/>
<circle cx="333.8" cy="445.3" r="4.1" fill="#0000ff"/>
<path d="M185.9,479.1V511.3M183.6,479.1H188.2M183.6,511.3H188.2" stroke="#ff0000" stroke-width="1.50" fill="none"/>
<circle cx="185.9" cy="495.3" r="4.1" fill="#ff0000"/>
<path d="M264.9,453.7V488.9M262.6,453.7H267.2M262.6,488.9H267.2" stroke="#ff0000" stroke-width="1.50" fill="none"/>
<circle cx="264.9" cy="472.1" r="4.1" fill="#ff0000"/>
<path d="M344.2,382.8V423.6M341.9,382.8H346.5M341.9,423.6H346.5" stroke="#ff0000" stroke-width="1.50" fill="none"/>
<circle cx="344.2" cy="402.7" r="4.1" fill="#ff0000"/>
</g>
<path d="M86.65,57.3v3.4M95.98,57.3v3.4M105.30,57.3v7.5M114.62,57.3v3.4M123.95,57.3v3.4M133.27,57.3v3.4M142.60,57.3v3.4M151.93,57.3v3.4M161.25,57.3v3.4M170.58,57.3v3.4M179.90,57.3v3.4M189.23,57.3v3.4M198.55,57.3v7.5M207.87,57.3v3.4M217.20,57.3v3.4M226.52,57.3v3.4M235.85,57.3v3.4M245.18,57.3v3.4M254.50,57.3v3.4M263.83,57.3v3.4M273.15,57.3v3.4M282.48,57.3v3.4M291.80,57.3v7.5M301.12,57.3v3.4M310.45,57.3v3.4M319.77,57.3v3.4M329.10,57.3v3.4M338.43,57.3v3.4M347.75,57.3v3.4M357.08,57.3v3.4M366.40,57.3v3.4M375.73,57.3v3.4M385.05,57.3v7.5M394.37,57.3v3.4M403.70,57.3v3.4M413.02,57.3v3.4M97.32,323.1v-2.8M97.32,323.1v2.8M97.32,589.2v-2.8M115.94,323.1v-2.8M115.94,323.1v2.8M115.94,589.2v-2.8M134.57,323.1v-2.8M134.57,323.1v2.8M134.57,589.2v-2.8M153.19,323.1v-2.8M153.19,323.1v2.8M153.19,589.2v-2.8M171.81,323.1v-5.4M171.81,323.1v5.4M171.81,589.2v-5.4M190.43,323.1v-2.8M190.43,323.1v2.8M190.43,589.2v-2.8M209.06,323.1v-2.8M209.06,323.1v2.8M209.06,589.2v-2.8M227.68,323.1v-2.8M227.68,323.1v2.8M227.68,589.2v-2.8M246.30,323.1v-2.8M246.30,323.1v2.8M246.30,589.2v-2.8M264.92,323.1v-5.4M264.92,323.1v5.4M264.92,589.2v-5.4M283.54,323.1v-2.8M283.54,323.1v2.8M283.54,589.2v-2.8M302.17,323.1v-2.8M302.17,323.1v2.8M302.17,589.2v-2.8M320.79,323.1v-2.8M320.79,323.1v2.8M320.79,589.2v-2.8M339.41,323.1v-2.8M339.41,323.1v2.8M339.41,589.2v-2.8M358.03,323.1v-5.4M358.03,323.1v5.4M358.03,589.2v-5.4M376.66,323.1v-2.8M376.66,323.1v2.8M376.66,589.2v-2.8M395.28,323.1v-2.8M395.28,323.1v2.8M395.28,589.2v-2.8M78.7,319.31h3.4M413.9,319.31h-3.4M78.7,315.36h3.4M413.9,315.36h-3.4M78.7,311.42h3.4M413.9,311.42h-3.4M78.7,307.47h3.4M413.9,307.47h-3.4M78.7,303.53h3.4M413.9,303.53h-3.4M78.7,299.58h3.4M413.9,299.58h-3.4M78.7,295.63h3.4M413.9,295.63h-3.4M78.7,291.69h3.4M413.9,291.69h-3.4M78.7,287.75h3.4M413.9,287.75h-3.4M78.7,283.80h6.7M413.9,283.80h-6.7M78.7,279.86h3.4M413.9,279.86h-3.4M78.7,275.91h3.4M413.9,275.91h-3.4M78.7,271.97h3.4M413.9,271.97h-3.4M78.7,268.02h3.4M413.9,268.02h-3.4M78.7,264.07h3.4M413.9,264.07h-3.4M78.7,260.13h3.4M413.9,260.13h-3.4M78.7,256.19h3.4M413.9,256.19h-3.4M78.7,252.24h3.4M413.9,252.24h-3.4M78.7,248.30h3.4M413.9,248.30h-3.4M78.7,244.35h6.7M413.9,244.35h-6.7M78.7,240.41h3.4M413.9,240.41h-3.4M78.7,236.46h3.4M413.9,236.46h-3.4M78.7,232.51h3.4M413.9,232.51h-3.4M78.7,228.57h3.4M413.9,228.57h-3.4M78.7,224.62h3.4M413.9,224.62h-3.4M78.7,220.68h3.4M413.9,220.68h-3.4M78.7,216.74h3.4M413.9,216.74h-3.4M78.7,212.79h3.4M413.9,212.79h-3.4M78.7,208.84h3.4M413.9,208.84h-3.4M78.7,204.90h6.7M413.9,204.90h-6.7M78.7,200.95h3.4M413.9,200.95h-3.4M78.7,197.01h3.4M413.9,197.01h-3.4M78.7,193.06h3.4M413.9,193.06h-3.4M78.7,189.12h3.4M413.9,189.12h-3.4M78.7,185.18h3.4M413.9,185.18h-3.4M78.7,181.23h3.4M413.9,181.23h-3.4M78.7,177.28h3.4M413.9,177.28h-3.4M78.7,173.34h3.4M413.9,173.34h-3.4M78.7,169.39h3.4M413.9,169.39h-3.4M78.7,165.45h6.7M413.9,165.45h-6.7M78.7,161.50h3.4M413.9,161.50h-3.4M78.7,157.56h3.4M413.9,157.56h-3.4M78.7,153.62h3.4M413.9,153.62h-3.4M78.7,149.67h3.4M413.9,149.67h-3.4M78.7,145.72h3.4M413.9,145.72h-3.4M78.7,141.78h3.4M413.9,141.78h-3.4M78.7,137.84h3.4M413.9,137.84h-3.4M78.7,133.89h3.4M413.9,133.89h-3.4M78.7,129.94h3.4M413.9,129.94h-3.4M78.7,126.00h6.7M413.9,126.00h-6.7M78.7,122.06h3.4M413.9,122.06h-3.4M78.7,118.11h3.4M413.9,118.11h-3.4M78.7,114.16h3.4M413.9,114.16h-3.4M78.7,110.22h3.4M413.9,110.22h-3.4M78.7,106.28h3.4M413.9,106.28h-3.4M78.7,102.33h3.4M413.9,102.33h-3.4M78.7,98.38h3.4M413.9,98.38h-3.4M78.7,94.44h3.4M413.9,94.44h-3.4M78.7,90.50h3.4M413.9,90.50h-3.4M78.7,86.55h6.7M413.9,86.55h-6.7M78.7,82.60h3.4M413.9,82.60h-3.4M78.7,78.66h3.4M413.9,78.66h-3.4M78.7,74.72h3.4M413.9,74.72h-3.4M78.7,70.77h3.4M413.9,70.77h-3.4M78.7,66.82h3.4M413.9,66.82h-3.4M78.7,62.88h3.4M413.9,62.88h-3.4M78.7,58.93h3.4M413.9,58.93h-3.4M78.7,575.11h3.4M413.9,575.11h-3.4M78.7,561.11h3.4M413.9,561.11h-3.4M78.7,547.12h3.4M413.9,547.12h-3.4M78.7,533.12h3.4M413.9,533.12h-3.4M78.7,519.12h6.7M413.9,519.12h-6.7M78.7,505.13h3.4M413.9,505.13h-3.4M78.7,491.13h3.4M413.9,491.13h-3.4M78.7,477.14h3.4M413.9,477.14h-3.4M78.7,463.15h3.4M413.9,463.15h-3.4M78.7,449.15h6.7M413.9,449.15h-6.7M78.7,435.16h3.4M413.9,435.16h-3.4M78.7,421.16h3.4M413.9,421.16h-3.4M78.7,407.17h3.4M413.9,407.17h-3.4M78.7,393.17h3.4M413.9,393.17h-3.4M78.7,379.18h6.7M413.9,379.18h-6.7M78.7,365.18h3.4M413.9,365.18h-3.4M78.7,351.19h3.4M413.9,351.19h-3.4M78.7,337.19h3.4M413.9,337.19h-3.4" stroke="#000" stroke-width="1.5" fill="none"/>
<path d="M78.7,57.3H413.9V589.2H78.7ZM78.7,323.1H413.9" stroke="#000" stroke-width="1.7" fill="none" stroke-linejoin="miter"/>
<text transform="translate(105.3,49.5) scale(1.035,1)" text-anchor="middle" >43.5</text>
<text transform="translate(198.6,49.5) scale(1.035,1)" text-anchor="middle" >44.0</text>
<text transform="translate(291.8,49.5) scale(1.035,1)" text-anchor="middle" >44.5</text>
<text transform="translate(385.1,49.5) scale(1.035,1)" text-anchor="middle" >45.0</text>
<text transform="translate(78.7,609.7) scale(1.035,1)" text-anchor="middle" >44.5</text>
<text transform="translate(171.8,609.7) scale(1.035,1)" text-anchor="middle" >45.0</text>
<text transform="translate(264.9,609.7) scale(1.035,1)" text-anchor="middle" >45.5</text>
<text transform="translate(358.0,609.7) scale(1.035,1)" text-anchor="middle" >46.0</text>
<text transform="translate(74.4,92.2) scale(1.035,1)" text-anchor="end" >1000</text>
<text transform="translate(74.4,131.7) scale(1.035,1)" text-anchor="end" >900</text>
<text transform="translate(74.4,171.1) scale(1.035,1)" text-anchor="end" >800</text>
<text transform="translate(74.4,210.6) scale(1.035,1)" text-anchor="end" >700</text>
<text transform="translate(74.4,250.1) scale(1.035,1)" text-anchor="end" >600</text>
<text transform="translate(74.4,289.5) scale(1.035,1)" text-anchor="end" >500</text>
<text transform="translate(74.4,323.9) scale(1.035,1)" text-anchor="end" >400</text>
<text transform="translate(74.4,384.9) scale(1.035,1)" text-anchor="end" >150</text>
<text transform="translate(74.4,454.9) scale(1.035,1)" text-anchor="end" >100</text>
<text transform="translate(74.4,524.8) scale(1.035,1)" text-anchor="end" >50</text>
<text transform="translate(74.0,589.1) scale(1.035,1)" text-anchor="end" >0</text>
<text transform="translate(183.6,22.0) scale(1.035,1)" text-anchor="start" >Log(<tspan font-family="Liberation Serif" font-weight="bold" font-style="italic" font-size="16.5">L</tspan><tspan font-size="10.5" dy="3.5">15µm</tspan><tspan dy="-3.5"> [erg/s])</tspan></text>
<text transform="translate(190.8,627.6) scale(1.035,1)" text-anchor="start" >Log(<tspan font-family="Liberation Serif" font-weight="bold" font-style="italic" font-size="16.5">L</tspan><tspan font-size="10.5" dy="3.5">bol</tspan><tspan dy="-3.5"> [erg/s])</tspan></text>
<text transform="translate(24.3,190.4) rotate(-90) scale(1.035,1)" text-anchor="middle">[OIII] broad FWHM [km/s]</text>
<text transform="translate(33.1,456.7) rotate(-90) scale(1.035,1)" text-anchor="middle">[OIII] broad blueshift [km/s]</text>
<circle cx="104.3" cy="85.6" r="4.4" fill="#ff0000"/>
<circle cx="104.3" cy="102.2" r="4.4" fill="#0000ff"/>
<rect x="100.6" y="118.2" width="9.2" height="9.2" fill="none" stroke="#ff0000" stroke-width="1"/>
<rect x="100.6" y="134.7" width="9.2" height="9.2" fill="none" stroke="#0000ff" stroke-width="1"/>
<text transform="translate(115.2,90.3) scale(1.035,1)" text-anchor="start" >Obscured</text>
<text transform="translate(115.2,106.8) scale(1.035,1)" text-anchor="start" >Unobscured</text>
<text transform="translate(115.2,127.4) scale(1.035,1)" text-anchor="start" >Type 2</text>
<text transform="translate(115.2,143.9) scale(1.035,1)" text-anchor="start" >Type 1</text>
</svg></body></html>
